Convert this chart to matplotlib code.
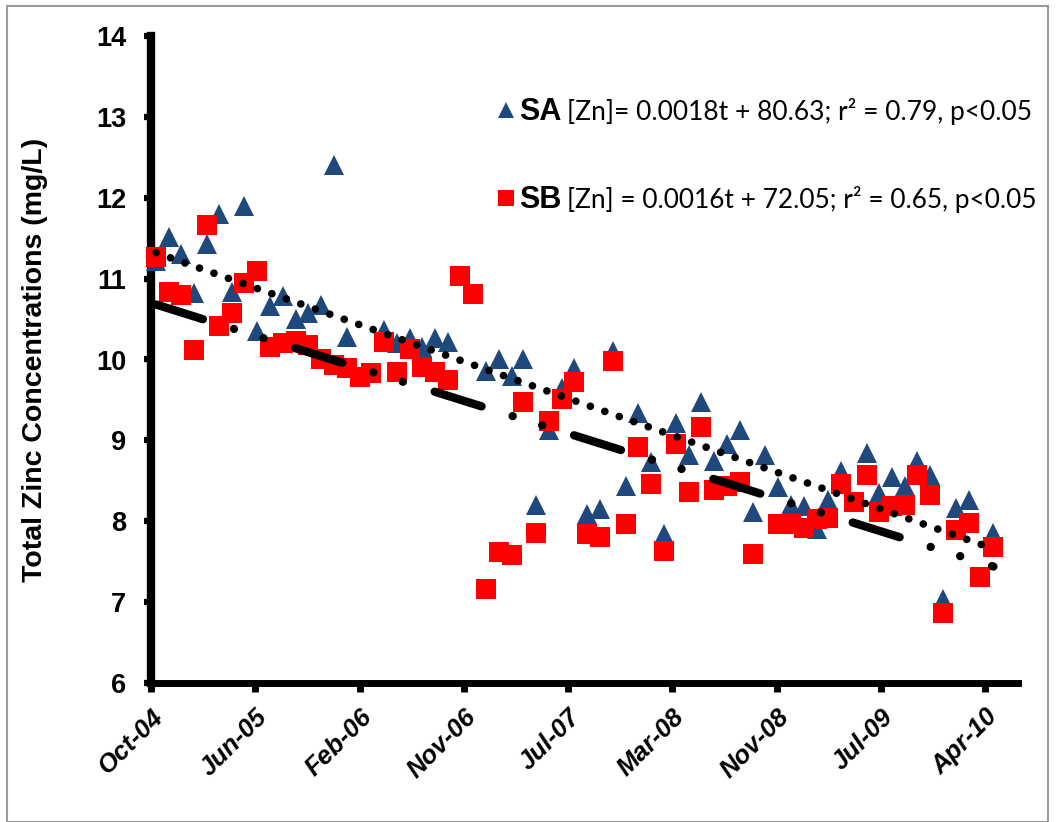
import datetime as dt
import matplotlib
matplotlib.use("Agg")
import matplotlib.pyplot as plt
import matplotlib.dates as mdates
from matplotlib.lines import Line2D
from matplotlib.patches import Rectangle

# ---------------- data ----------------
sa_months = ["2004-10", "2004-11", "2004-12", "2005-01", "2005-02", "2005-03", "2005-04",
             "2005-05", "2005-06", "2005-07", "2005-08", "2005-09", "2005-10", "2005-11",
             "2005-12", "2006-01", "2006-04", "2006-05", "2006-06", "2006-07", "2006-08",
             "2006-09", "2006-12", "2007-01", "2007-02", "2007-03", "2007-04", "2007-05",
             "2007-06", "2007-07", "2007-08", "2007-09", "2007-10", "2007-11", "2007-12",
             "2008-01", "2008-02", "2008-03", "2008-04", "2008-05", "2008-06", "2008-07",
             "2008-08", "2008-09", "2008-10", "2008-11", "2008-12", "2009-01", "2009-02",
             "2009-03", "2009-04", "2009-06", "2009-07", "2009-08", "2009-09", "2009-10",
             "2009-11", "2009-12", "2010-01", "2010-02", "2010-04"]
sa_values = [11.22, 11.52, 11.31, 10.82, 11.43, 11.80, 10.84,
             11.90, 10.35, 10.66, 10.79, 10.50, 10.57, 10.67,
             12.40, 10.28, 10.36, 10.20, 10.26, 10.16, 10.26,
             10.22, 9.86, 10.01, 9.80, 10.01, 8.20, 9.13,
             9.65, 9.89, 8.09, 8.15, 10.10, 8.43, 9.34,
             8.73, 7.84, 9.22, 8.82, 9.48, 8.75, 8.95,
             9.13, 8.11, 8.82, 8.42, 8.20, 8.19, 7.90,
             8.26, 8.62, 8.84, 8.35, 8.55, 8.44, 8.74,
             8.57, 7.04, 8.16, 8.26, 7.86]

sb_months = ["2004-10", "2004-11", "2004-12", "2005-01", "2005-02", "2005-03", "2005-04",
             "2005-05", "2005-06", "2005-07", "2005-08", "2005-09", "2005-10", "2005-11",
             "2005-12", "2006-01", "2006-02", "2006-03", "2006-04", "2006-05", "2006-06",
             "2006-07", "2006-08", "2006-09", "2006-10", "2006-11", "2006-12", "2007-01",
             "2007-02", "2007-03", "2007-04", "2007-05", "2007-06", "2007-07", "2007-08",
             "2007-09", "2007-10", "2007-11", "2007-12", "2008-01", "2008-02", "2008-03",
             "2008-04", "2008-05", "2008-06", "2008-07", "2008-08", "2008-09", "2008-11",
             "2008-12", "2009-01", "2009-02", "2009-03", "2009-04", "2009-05", "2009-06",
             "2009-07", "2009-08", "2009-09", "2009-10", "2009-11", "2009-12", "2010-01",
             "2010-02", "2010-03", "2010-04"]
sb_values = [11.27, 10.83, 10.80, 10.12, 11.66, 10.42, 10.58,
             10.95, 11.10, 10.15, 10.20, 10.23, 10.18, 10.00,
             9.93, 9.90, 9.78, 9.83, 10.22, 9.85, 10.13,
             9.91, 9.85, 9.75, 11.03, 10.81, 7.16, 7.62,
             7.58, 9.47, 7.86, 9.24, 9.51, 9.72, 7.84,
             7.80, 9.98, 7.96, 8.92, 8.46, 7.63, 8.95,
             8.36, 9.16, 8.39, 8.43, 8.49, 7.59, 7.97,
             7.97, 7.92, 8.03, 8.04, 8.46, 8.24, 8.57,
             8.12, 8.19, 8.20, 8.57, 8.32, 6.87, 7.89,
             7.98, 7.31, 7.68]

# linear trend lines: value at first and last sampling month
sa_trend_months = ["2004-10", "2010-04"]
sa_trend_values = [11.32, 7.66]
sb_trend_months = ["2004-10", "2010-04"]
sb_trend_values = [10.68, 7.44]

x_tick_labels = ["Oct-04", "Jun-05", "Feb-06", "Nov-06", "Jul-07",
                 "Mar-08", "Nov-08", "Jul-09", "Apr-10"]
y_ticks = [6, 7, 8, 9, 10, 11, 12, 13, 14]

sa_label = "[Zn]= 0.0018t + 80.63; r\u00b2 = 0.79, p<0.05"
sb_label = "[Zn] = 0.0016t + 72.05; r\u00b2 = 0.65, p<0.05"
y_label = "Total Zinc Concentrations (mg/L)"

# ---------------- helpers ----------------
def to_num(months):
    out = []
    for m in months:
        y, mo = m.split("-")
        out.append(mdates.date2num(dt.datetime(int(y), int(mo), 27)))
    return out

axis_start = mdates.date2num(dt.datetime(2004, 10, 15))
tick_step = 250  # days between major ticks
tick_pos = [axis_start + i * tick_step for i in range(len(x_tick_labels))]
axis_end = axis_start + 2079

W, H = 1060, 822
fig = plt.figure(figsize=(W / 100, H / 100), dpi=100)
fig.patch.set_facecolor("white")

# grey outer frame
fig.add_artist(Rectangle((7 / W, 0), (1048 - 7) / W, (H - 6) / H,
                         transform=fig.transFigure, fill=False,
                         edgecolor="#9a9a9a", linewidth=1.5))

ax_l, ax_r, ax_t, ax_b = 151, 1018, 36, 683
ax = fig.add_axes([ax_l / W, 1 - ax_b / H, (ax_r - ax_l) / W, (ax_b - ax_t) / H])

SA_COL = "#1F497D"
SB_COL = "#FF0000"

ax.plot(to_num(sa_months), sa_values, linestyle="none", marker="^",
        markersize=14, color=SA_COL, markeredgewidth=0, zorder=3, clip_on=False)
ax.plot(to_num(sb_months), sb_values, linestyle="none", marker="s",
        markersize=14, color=SB_COL, markeredgewidth=0, zorder=4, clip_on=False)

ax.plot(to_num(sa_trend_months), sa_trend_values, color="black", linewidth=5.5,
        linestyle=(0, (0.01, 2.0)), dash_capstyle="round", zorder=5)
ax.plot(to_num(sb_trend_months), sb_trend_values, color="black", linewidth=6,
        linestyle=(0, (5.9, 3.9, 0.01, 3.7, 0.01, 4.0)), dash_capstyle="round",
        zorder=5)

ax.set_xlim(axis_start, axis_end)
ax.set_ylim(6, 14)
ax.set_yticks(y_ticks)
ax.set_yticklabels([str(v) for v in y_ticks], fontfamily="Liberation Sans",
                   fontweight="bold", fontsize=19.5)
ax.set_xticks(tick_pos)
ax.set_xticklabels(x_tick_labels, fontfamily="Liberation Sans", fontweight="bold",
                   fontstyle="italic", fontsize=18.5, rotation=45, ha="right",
                   rotation_mode="anchor")

for side in ("top", "right"):
    ax.spines[side].set_visible(False)
ax.spines["left"].set_linewidth(6)
ax.spines["bottom"].set_linewidth(5)
ax.tick_params(axis="y", direction="out", length=5, width=4.5, pad=13)
ax.tick_params(axis="x", direction="out", length=6.5, width=5, pad=9)

ax.set_ylabel(y_label, fontfamily="Liberation Sans", fontweight="bold",
              fontsize=20.5)
ax.yaxis.set_label_coords(-(151 - 48) / (ax_r - ax_l), 0.5)

# annotation "legend"
fig.add_artist(Line2D([506 / W], [1 - 110 / H], marker="^", markersize=11.5,
                      color=SA_COL, markeredgewidth=0, transform=fig.transFigure))
fig.add_artist(Line2D([506 / W], [1 - 198 / H], marker="s", markersize=11,
                      color=SB_COL, markeredgewidth=0, transform=fig.transFigure))
fig.text(519 / W, 1 - 120 / H, "SA", fontfamily="Liberation Sans", fontweight="bold",
         fontsize=22, va="baseline", ha="left")
fig.text(519 / W, 1 - 208 / H, "SB", fontfamily="Liberation Sans", fontweight="bold",
         fontsize=22, va="baseline", ha="left")
t1 = fig.text(567 / W, 1 - 120 / H, sa_label, fontfamily="Lato", fontsize=20,
              va="baseline", ha="left")
t2 = fig.text(567 / W, 1 - 208 / H, sb_label, fontfamily="Lato", fontsize=20,
              va="baseline", ha="left")

# fit equation text widths to the reference extent
renderer = fig.canvas.get_renderer()
for t, target in ((t1, 466), (t2, 470)):
    w = t.get_window_extent(renderer).width
    t.set_fontsize(20 * target / w)

fig.savefig("out.png", dpi=100, facecolor="white")
